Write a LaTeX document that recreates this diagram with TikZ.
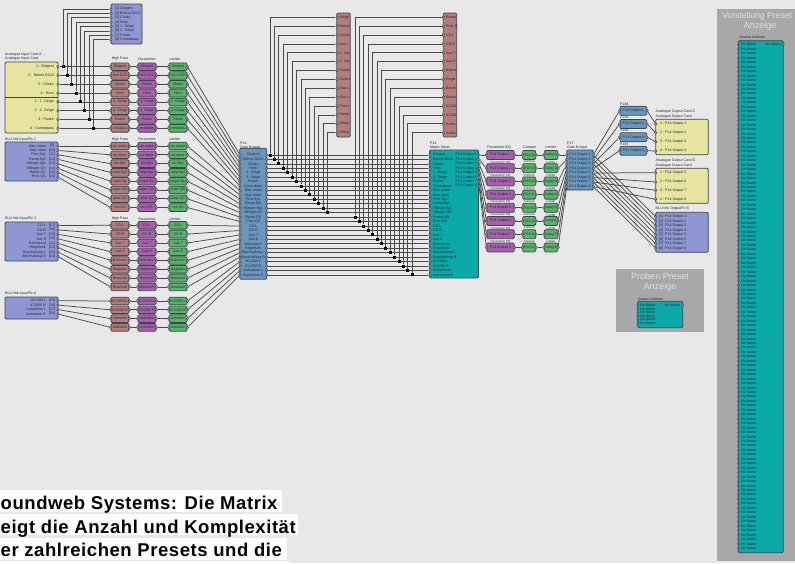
\documentclass[tikz,border=0pt]{standalone}
\usepackage{fontspec}
\setmainfont{Liberation Sans}
\newfontfamily\capfont[LetterSpace=3]{Liberation Sans}
\pgfdeclarelayer{wires}
\pgfsetlayers{wires,main}
\definecolor{pagebg}{HTML}{E8E8E8}
\definecolor{bluecard}{HTML}{8F97D2}
\definecolor{yellowcard}{HTML}{E6E49E}
\definecolor{redbox}{HTML}{B57C7C}
\definecolor{purplebox}{HTML}{A95FAE}
\definecolor{greenbox}{HTML}{58B368}
\definecolor{steelbox}{HTML}{6A96BE}
\definecolor{tealbox}{HTML}{0CA9A9}
\definecolor{panelgray}{HTML}{A8A8A8}
\definecolor{edge}{HTML}{3C4650}
\definecolor{wirecol}{HTML}{4A4A4A}
\definecolor{inktext}{HTML}{1E2A30}
\tikzset{
  x=1pt,y=-1pt,
  tiny/.style={font=\fontsize{3.6}{4}\selectfont,text=inktext,inner sep=0pt},
  card/.style={draw=edge,line width=.8pt,rounded corners=1.2pt,inner sep=0pt},
  blk/.style={card,tiny,minimum width=18pt,minimum height=7.6pt},
  hpbox/.style={blk,fill=redbox},
  pebox/.style={blk,fill=purplebox},
  libox/.style={blk,fill=greenbox},
  port/.style={circle,draw=edge,fill=gray!70,line width=.4pt,inner sep=0pt,minimum size=2.8pt},
  jdot/.style={rectangle,fill=black,inner sep=0pt,minimum size=3pt},
  wire/.style={draw=wirecol,line width=.75pt},
  head/.style={tiny,anchor=west},
  paneltitle/.style={font=\fontsize{9}{10}\selectfont,text=gray!25,inner sep=0pt},
  capline/.style={font=\capfont\bfseries\fontsize{18.5}{20}\selectfont,text=black,inner sep=0pt,anchor=base east},
}
\newcommand{\twoports}[1]{\node[port] (#1w) at (#1.west) {};\node[port] (#1e) at (#1.east) {};}
\newcommand{\chanrow}[5]{%
  \node[port] (src#1) at (58,#2) {};
  \node[hpbox] (hp#1) at (120,#3) {#5}; \twoports{hp#1}
  \node[pebox] (pe#1) at (147,#3) {#5}; \twoports{pe#1}
  \node[libox] (li#1) at (178,#3) {#5}; \twoports{li#1}
  \begin{pgfonlayer}{wires}
    \draw[wire] (src#1) -- (hp#1w);
    \draw[wire] (hp#1e) -- (pe#1w);
    \draw[wire] (pe#1e) -- (li#1w);
  \end{pgfonlayer}}
\begin{document}
\begin{tikzpicture}
\begin{pgfonlayer}{wires}
  \fill[pagebg] (0,0) rectangle (795,563);
\end{pgfonlayer}
\useasboundingbox (0,0) rectangle (795,563);
\clip (0,0) rectangle (795,563);

% ---- input cards
\node[card,fill=bluecard,minimum width=31pt,minimum height=40pt] (topcard) at (126.5,24) {};
\node[card,fill=yellowcard,minimum width=53pt,minimum height=71pt] (cardA) at (31.5,97.5) {};
\draw[edge,line width=.6pt] (cardA.west |- 0,97) -- (cardA.east |- 0,97);
\node[card,fill=bluecard,minimum width=53pt,minimum height=39pt] (rxA) at (31.5,161.5) {};
\node[card,fill=bluecard,minimum width=53pt,minimum height=39pt] (rxB) at (31.5,241.5) {};
\node[card,fill=bluecard,minimum width=53pt,minimum height=22pt] (rxC) at (31.5,308) {};
\node[head] (hA1) at (5,54.5) {Analogue Input Card A};
\node[head] (hA2) at (5,59) {Analogue Input Card};
\node[head] (hB) at (5,139.5) {BLU link Input/Rx 1};
\node[head] (hC) at (5,219) {BLU link Input/Rx 3};
\node[head] (hD) at (5,294) {BLU link Input/Rx 6};
\foreach \r/\yy in {a/59,b/139.5,c/219}{
  \node[tiny] (hpt\r) at (120,\yy) {High Pass};
  \node[tiny] (pet\r) at (147,\yy) {Parametric};
  \node[tiny] (lit\r) at (175,\yy) {Limiter};
}

% group 1
\foreach \i/\t/\s/\n in {1/Dirigent/Dirigent/1 : Dirigent,2/Bühne D224/hne D22/2 : Bühne D224,3/Choko/Choko/3 : Choko,4/Horn/Horn/4 : Horn,5/1. Geige/1. Geige/1 : 1. Geige,6/2. Geige/2. Geige/2 : 2. Geige,7/Pauke/Pauke/3 : Pauke,8/Contrabass/ontrabas/4 : Contrabass}{
  \pgfmathsetmacro{\yc}{66.7+8.8*(\i-1)}
  \pgfmathsetmacro{\yt}{9+4.4*(\i-1)}
  \pgfmathsetmacro{\xd}{63+4.35*(\i-1)}
  \chanrow{\i}{\yc}{\yc}{\n}{\s}
  \node[tiny,anchor=east] (srcl\i) at (54,\yc) {\n};
  \node[port] (tp\i) at (111,\yt) {};
  \node[tiny,anchor=west] (tl\i) at (115,\yt) {[\i]\ \t};
  \node[jdot] (jin\i) at (\xd,\yc) {};
  \begin{pgfonlayer}{wires}
    \draw[wire] (tp\i) -| (jin\i);
  \end{pgfonlayer}
}
% group 2
\foreach \i/\t/\s in {9/Klav unten/av unten,10/Klav oben/av oben,11/Prox-flg1/rox-flg1,12/Ramp-flg2/amp-flg2,13/Hilinger-flg1/inger-flg,14/Hilinger-QS/inger-QS,15/Ramp-QS/amp-QS,16/Prox-QS/rox-QS}{
  \pgfmathsetmacro{\ys}{146+4.43*(\i-9)}
  \pgfmathsetmacro{\yc}{146+8.8*(\i-9)}
  \chanrow{\i}{\ys}{\yc}{}{\s}
  \node[tiny,anchor=east] (srcl\i) at (46,\ys) {\t};
  \node[tiny] (srcn\i) at (52,\ys) {[\i]};
}
% group 3
\foreach \i/\t/\s in {17/CD L/CD L,18/CD R/CD R,19/Aux 7/Aux 7,20/Aux 8/Aux 8,21/Bühnenruf/Bühnenr,22/Regiefunk/Regiefun,23/Beschallung L/Beschall,24/Beschallung R/Beschall}{
  \pgfmathsetmacro{\ys}{225.5+4.43*(\i-17)}
  \pgfmathsetmacro{\yc}{225.3+8.8*(\i-17)}
  \chanrow{\i}{\ys}{\yc}{}{\s}
  \node[tiny,anchor=east] (srcl\i) at (46,\ys) {\t};
  \node[tiny] (srcn\i) at (52,\ys) {[\i]};
}
% group 4
\foreach \i/\t/\s in {25/ICX300 L/ICX300 L,26/ICX300 R/ICX300 R,27/Aufnahme L/Aufnahm,28/Aufnahme R/Aufnahm}{
  \pgfmathsetmacro{\ys}{300.7+4.43*(\i-25)}
  \pgfmathsetmacro{\yc}{301+8.8*(\i-25)}
  \chanrow{\i}{\ys}{\yc}{}{\s}
  \node[tiny,anchor=east] (srcl\i) at (46,\ys) {\t};
  \node[tiny] (srcn\i) at (52,\ys) {[\i]};
}

% ---- gain P13 and matrix P14
\node[card,fill=steelbox,minimum width=27pt,minimum height=131pt] (gainA) at (253.3,213.7) {};
\node[head] (gainAa) at (240,143) {P13};
\node[head] (gainAb) at (240,147.3) {Gain N Input};
\node[card,fill=tealbox,minimum width=49pt,minimum height=128pt] (matrix) at (454,214) {};
\node[head] (matrixa) at (430,143) {P14};
\node[head] (matrixb) at (430,147.3) {Matrix Mixer};
\foreach \i/\t in {1/Dirigent,2/Bühne D224,3/Choko,4/Horn,5/1. Geige,6/2. Geige,7/Pauke,8/Contrabass,9/Klav unten,10/Klav oben,11/Prox-flg1,12/Ramp-flg2,13/Hilinger-flg1,14/Hilinger-QS,15/Ramp-QS,16/Prox-QS,17/CD L,18/CD R,19/Aux 7,20/Aux 8,21/Bühnenruf,22/Regiefunk,23/Beschallung L,24/Beschallung R,25/ICX300 L,26/ICX300 R,27/Aufnahme L,28/Aufnahme R}{
  \pgfmathsetmacro{\yr}{155+4.44*(\i-1)}
  \node[port] (gaw\i) at (240,\yr) {};
  \node[port] (gae\i) at (266.8,\yr) {};
  \node[tiny] (gat\i) at (253.3,\yr) {\t};
  \node[port] (maw\i) at (430,\yr) {};
  \node[tiny,anchor=west] (mat\i) at (433,\yr) {\t};
  \begin{pgfonlayer}{wires}
    \draw[wire] (li\i e) -- (gaw\i);
    \draw[wire] (gae\i) -- (maw\i);
  \end{pgfonlayer}
}

% ---- red strips and their junctions
\node[card,fill=redbox,minimum width=13.4pt,minimum height=124pt] (stripA) at (343.5,75) {};
\node[card,fill=redbox,minimum width=13.4pt,minimum height=124pt] (stripB) at (450,75) {};
\foreach \k/\t in {1/Dirige,2/Bühne,3/Choko,4/Horn,5/1. Gei,6/2. Gei,7/Pauke,8/Contra,9/Klav u,10/Klav o,11/Prox-f,12/Ramp,13/Hiling,14/Hiling}{
  \pgfmathsetmacro{\ys}{17.3+8.88*(\k-1)}
  \pgfmathsetmacro{\xd}{270+4.43*(\k-1)}
  \pgfmathsetmacro{\yd}{155+4.44*(\k-1)}
  \node[port] (sap\k) at (337,\ys) {};
  \node[tiny,anchor=west] (sat\k) at (339.5,\ys) {\t};
  \node[jdot] (ja\k) at (\xd,\yd) {};
  \begin{pgfonlayer}{wires}
    \draw[wire] (sap\k) -| (ja\k);
  \end{pgfonlayer}
}
\foreach \k/\t in {1/Ramp,2/Prox Q,3/CD L,4/CD R,5/Aux 7,6/Aux 8,7/Bühne,8/Regie,9/Besch,10/Besch,11/ICX30,12/ICX30,13/Aufna,14/Aufna}{
  \pgfmathsetmacro{\ys}{17.3+8.88*(\k-1)}
  \pgfmathsetmacro{\xd}{355+4.4*(\k-1)}
  \pgfmathsetmacro{\yd}{155+4.44*(\k+13)}
  \node[port] (sbp\k) at (443.3,\ys) {};
  \node[tiny,anchor=west] (sbt\k) at (446,\ys) {\t};
  \node[jdot] (jb\k) at (\xd,\yd) {};
  \begin{pgfonlayer}{wires}
    \draw[wire] (sbp\k) -| (jb\k);
  \end{pgfonlayer}
}

% ---- output chain
\node[head] (pehead) at (487,147.5) {Parametric EQ};
\node[head] (cohead) at (523,147.5) {Compre};
\node[head] (lohead) at (545,147.5) {Limiter};
\node[card,fill=steelbox,minimum width=26.4pt,minimum height=40pt] (gainB) at (580,170) {};
\node[head] (gainBa) at (567,143) {P17};
\node[head] (gainBb) at (567,147.3) {Gain N Input};
\foreach \i in {1,...,8}{
  \pgfmathsetmacro{\ym}{155+4.44*(\i-1)}
  \pgfmathsetmacro{\yo}{155+13.2*(\i-1)}
  \pgfmathsetmacro{\yg}{155+4.5*(\i-1)}
  \node[tiny,anchor=east] (mao\i) at (477,\ym) {P14 Output \i};
  \node[port] (mae\i) at (479,\ym) {};
  \node[blk,fill=purplebox,minimum width=27.4pt,minimum height=9pt] (oe\i) at (500.5,\yo) {P14 Output \i}; \twoports{oe\i}
  \node[blk,fill=greenbox,minimum width=13pt,minimum height=9pt] (oc\i) at (529.2,\yo) {P14 O}; \twoports{oc\i}
  \node[blk,fill=greenbox,minimum width=13.4pt,minimum height=9pt] (ol\i) at (551,\yo) {Ausg \i}; \twoports{ol\i}
  \ifnum\i>1
    \node[tiny,font=\fontsize{3}{3.4}\selectfont] (oet\i) at (500.5,\yo-6) {Parametric EQ};
    \node[tiny,font=\fontsize{3}{3.4}\selectfont] (oct\i) at (529.2,\yo-6) {Compre};
    \node[tiny,font=\fontsize{3}{3.4}\selectfont] (olt\i) at (551,\yo-6) {Limiter};
  \fi
  \node[port] (gbw\i) at (566.8,\yg) {};
  \node[port] (gbe\i) at (593.2,\yg) {};
  \node[tiny] (gbt\i) at (580,\yg) {P14 Output \i};
  \begin{pgfonlayer}{wires}
    \draw[wire] (mae\i) -- (oe\i w);
    \draw[wire] (oe\i e) -- (oc\i w);
    \draw[wire] (oc\i e) -- (ol\i w);
    \draw[wire] (ol\i e) -- (gbw\i);
  \end{pgfonlayer}
}

% ---- output cards
\node[card,fill=yellowcard,minimum width=52.6pt,minimum height=35.6pt] (cardC) at (682,137) {};
\node[head] (cC1) at (655.5,112) {Analogue Output Card C};
\node[head] (cC2) at (655.5,116.7) {Analogue Output Card};
\node[card,fill=yellowcard,minimum width=52.6pt,minimum height=35pt] (cardD) at (682,185.8) {};
\node[head] (cD1) at (655.5,160.7) {Analogue Output Card D};
\node[head] (cD2) at (655.5,165.5) {Analogue Output Card};
\node[card,fill=bluecard,minimum width=52.6pt,minimum height=40pt] (txA) at (682,232.3) {};
\node[head] (txh) at (655.5,209) {BLU link Output/Tx 6};
\foreach \i/\yb/\yc/\lab in {1/110.7/124/P184,2/124/132.7/P185,3/137.3/141.7/P186,4/150.7/151/P187}{
  \node[blk,fill=steelbox,minimum width=26.7pt,minimum height=9pt] (fx\i) at (633.3,\yb) {P14 Output \i}; \twoports{fx\i}
  \node[head] (fxl\i) at (620,\yb-6.7) {\lab};
  \node[port] (ccp\i) at (655.7,\yc) {};
  \node[tiny,anchor=west] (cct\i) at (660,\yc) {\i\ :\ P14 Output \i};
  \begin{pgfonlayer}{wires}
    \draw[wire] (gbe\i) -- (fx\i w);
    \draw[wire] (fx\i e) -- (ccp\i);
  \end{pgfonlayer}
}
\foreach \i/\yc in {1/172.7,2/182,3/190.3,4/199.3}{
  \pgfmathtruncatemacro{\o}{\i+4}
  \node[port] (cdp\i) at (655.7,\yc) {};
  \node[tiny,anchor=west] (cdt\i) at (660,\yc) {\i\ :\ P14 Output \o};
  \begin{pgfonlayer}{wires}
    \draw[wire] (gbe\o) -- (cdp\i);
  \end{pgfonlayer}
}
\foreach \i in {1,...,8}{
  \pgfmathsetmacro{\yt}{216.7+4.5*(\i-1)}
  \node[port] (txp\i) at (655.7,\yt) {};
  \node[tiny,anchor=west] (txt\i) at (659,\yt) {[\i]\ \ P14 Output \i};
  \begin{pgfonlayer}{wires}
    \draw[wire] (gbe\i) -- (txp\i);
  \end{pgfonlayer}
}

% ---- preset panels
\node[fill=panelgray,minimum width=88.6pt,minimum height=62.4pt,inner sep=0pt] (panelA) at (660,300.5) {};
\node[paneltitle] (panelAa) at (660,276.3) {Proben Preset};
\node[paneltitle] (panelAb) at (660,287.5) {Anzeige};
\node[tiny,anchor=west] (selA) at (637.5,298.8) {Source Selector};
\node[card,fill=tealbox,minimum width=45pt,minimum height=26.4pt] (boxA) at (660.2,314.5) {};
\foreach \i in {1,...,6}{
  \pgfmathsetmacro{\yr}{305.3+3.6*(\i-1)}
  \node[port,minimum size=1.8pt] (apt\i) at (637.7,\yr) {};
  \node[tiny,anchor=west] (atx\i) at (640,\yr) {No Name};
}
\node[tiny,anchor=east] (aout) at (680,305.3) {No Name};
\node[port,minimum size=2.4pt] (aoutp) at (682.7,305.3) {};

\node[fill=panelgray,minimum width=78pt,minimum height=552.5pt,inner sep=0pt] (panelB) at (756.2,285) {};
\node[paneltitle,anchor=base west,font=\fontsize{8.6}{10}\selectfont] (panelBa) at (722,18) {Vorstellung Preset};
\node[paneltitle] (panelBb) at (760,26) {Anzeige};
\node[tiny,anchor=west] (selB) at (739.5,37.7) {Source Selector};
\node[card,fill=tealbox,minimum width=45pt,minimum height=512pt] (boxB) at (760.8,296.7) {};
\foreach \i in {1,...,114}{
  \pgfmathsetmacro{\yr}{44.7+4.456*(\i-1)}
  \node[port,minimum size=1.8pt] (bpt\i) at (738.3,\yr) {};
  \node[tiny,anchor=west] (btx\i) at (741,\yr) {No Name};
}
\node[tiny,anchor=east] (bout) at (781,44.7) {No Name};
\node[port,minimum size=2.4pt] (boutp) at (783.3,44.7) {};

% ---- caption
\fill[white] (0,489.7) rectangle (282,512.3);
\fill[white] (0,514) rectangle (297.7,535.3);
\fill[white] (0,538) rectangle (286.7,560.3);
\fill[white] (0,561.2) rectangle (289,563);
\node[capline,anchor=base west] (capa) at (0.5,509) {oundweb Systems: Die Matrix};
\node[capline,anchor=base west] (capb) at (0.5,533) {eigt die Anzahl und Komplexität};
\node[capline,anchor=base west] (capc) at (0.5,556.3) {er zahlreichen Presets und die};
\end{tikzpicture}
\end{document}
